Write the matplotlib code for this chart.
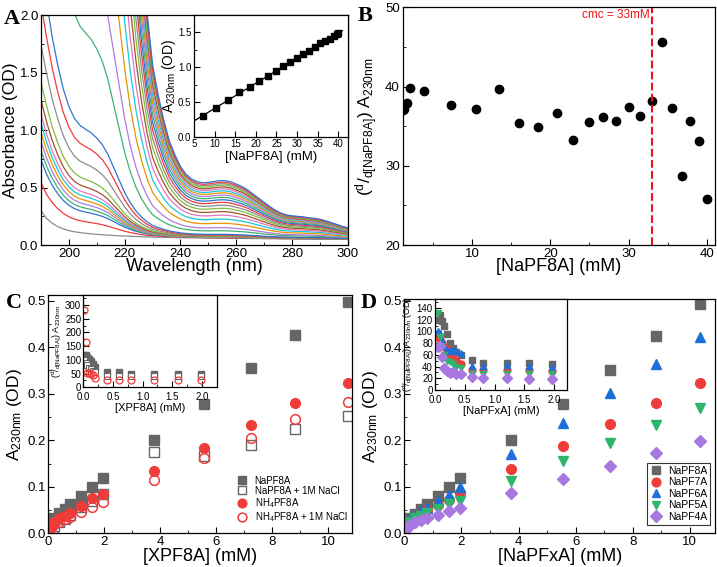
import numpy as np
import matplotlib
matplotlib.use("Agg")
import matplotlib.pyplot as plt
from matplotlib.ticker import MultipleLocator

plt.rcParams['font.family'] = ['Liberation Sans', 'DejaVu Sans']
plt.rcParams['mathtext.default'] = 'regular'
plt.rcParams['axes.linewidth'] = 0.9

# ---------------- data ----------------
# panel A: UV spectra (wavelength grid, molar absorbance shape, solvent baseline, concentrations)
wl = np.arange(190, 301, 2)
eps = [0.80, 0.70, 0.60, 0.52, 0.45, 0.40, 0.365, 0.345, 0.335, 0.325,
       0.31, 0.29, 0.26, 0.22, 0.18, 0.14, 0.108, 0.083, 0.064, 0.049,
       0.0375, 0.031, 0.0255, 0.021, 0.018, 0.0155, 0.0138, 0.0128, 0.0122, 0.012,
       0.0121, 0.0123, 0.0125, 0.0125, 0.0123, 0.0118, 0.0113, 0.0106, 0.0097, 0.0088,
       0.0079, 0.007, 0.0062, 0.0056, 0.0052, 0.005, 0.0049, 0.0048, 0.0046, 0.0045,
       0.0043, 0.004, 0.0036, 0.0032, 0.0028, 0.0025]
base = [0.30, 0.23, 0.19, 0.16, 0.14, 0.125, 0.115, 0.108, 0.102, 0.097,
        0.093, 0.089, 0.086, 0.083, 0.08, 0.078, 0.076, 0.074, 0.072, 0.07,
        0.069, 0.068, 0.067, 0.066, 0.065, 0.064, 0.063, 0.062, 0.062, 0.061,
        0.06, 0.06, 0.059, 0.059, 0.058, 0.058, 0.057, 0.057, 0.056, 0.056,
        0.055, 0.055, 0.055, 0.054, 0.054, 0.054, 0.053, 0.053, 0.053, 0.052,
        0.052, 0.051, 0.051, 0.051, 0.05, 0.05]
conc_A = [0, 0.3, 0.55, 0.65, 0.75, 0.85, 0.95, 1.05, 1.2, 1.4, 1.8, 2.25, 2.7,
          5.2, 7.3, 10.4, 13.3, 16.0, 18.5, 20.8, 22.9, 24.9, 26.7, 28.4, 30.0,
          31.5, 32.9, 34.3, 35.6, 36.8, 37.9, 38.9, 40.0]
spec_colors = ['#8c8c8c', '#ef3b3b', '#2f74d0', '#3cb371', '#b07be0',
               '#e69500', '#1cc6d6', '#e377c2', '#a0522d', '#7fbf3f']

# panel A inset
inA_x = [7.3, 10.4, 13.3, 16.0, 18.5, 20.8, 22.9, 24.9, 26.7, 28.4, 30.0,
         31.5, 32.9, 34.3, 35.6, 36.8, 37.9, 38.9, 39.6, 40.0]
inA_y = [0.30, 0.42, 0.53, 0.64, 0.71, 0.80, 0.87, 0.94, 1.01, 1.07, 1.13,
         1.19, 1.23, 1.29, 1.35, 1.37, 1.41, 1.45, 1.47, 1.49]

# panel B
B_x = [1.2, 1.32, 1.67, 2.09, 3.88, 7.35, 10.55, 13.4, 16.07, 18.5, 20.8, 22.9,
       24.9, 26.7, 28.46, 30.0, 31.5, 32.95, 34.3, 35.55, 36.8, 37.9, 39.0, 40.0]
B_y = [37.0, 37.16, 37.88, 39.85, 39.47, 37.63, 37.2, 39.65, 35.36, 34.9, 36.7, 33.2,
       35.5, 36.1, 35.6, 37.4, 36.3, 38.2, 45.6, 37.3, 28.7, 35.6, 33.1, 25.85]
cmc = 33

# panel C
C_x = [0.05, 0.1, 0.15, 0.2, 0.39, 0.58, 0.78, 1.17, 1.56, 1.95, 3.78, 5.56, 7.25, 8.82, 10.72]
C_na = [0.02, 0.024, 0.028, 0.032, 0.043, 0.053, 0.063, 0.081, 0.1, 0.118, 0.2, 0.277, 0.355, 0.427, 0.497]
C_na_nacl = [0.005, 0.008, 0.012, 0.016, 0.024, 0.03, 0.04, 0.056, 0.07, 0.084, 0.174, 0.167, 0.19, 0.225, 0.251]
C_nh4 = [0.012, 0.018, 0.022, 0.025, 0.032, 0.038, 0.044, 0.059, 0.075, 0.085, 0.133, 0.184, 0.232, 0.28, 0.324]
C_nh4_nacl = [0.01, 0.014, 0.017, 0.02, 0.025, 0.03, 0.034, 0.045, 0.057, 0.067, 0.115, 0.161, 0.205, 0.245, 0.283]

# panel C inset
inC_x = [0.01, 0.04, 0.07, 0.1, 0.13, 0.16, 0.2, 0.4, 0.6, 0.8, 1.2, 1.59, 1.98]
inC_na = [119, 116, 110, 104, 96, 86, 75, 56, 55, 50, 50, 50, 48]
inC_na_nacl = [100, 90, 80, 72, 66, 60, 55, 42, 42, 40, 40, 40, 41]
inC_nh4_nacl = [282, 165, 52, 52, 50, 45, 34, 26, 26, 25, 26, 26, 26]

# panel D
D_x = [0.05, 0.1, 0.15, 0.2, 0.39, 0.58, 0.78, 1.17, 1.56, 1.95, 3.75, 5.55, 7.22, 8.8, 10.35]
D_series = {
    'NaPF8A': [0.02, 0.024, 0.028, 0.032, 0.042, 0.053, 0.063, 0.08, 0.1, 0.118, 0.2, 0.277, 0.352, 0.424, 0.493],
    'NaPF7A': [0.015, 0.02, 0.024, 0.027, 0.035, 0.042, 0.05, 0.061, 0.072, 0.086, 0.138, 0.188, 0.235, 0.281, 0.323],
    'NaPF6A': [0.018, 0.022, 0.027, 0.03, 0.04, 0.048, 0.055, 0.07, 0.082, 0.099, 0.17, 0.238, 0.302, 0.363, 0.421],
    'NaPF5A': [0.013, 0.017, 0.021, 0.024, 0.032, 0.038, 0.044, 0.052, 0.062, 0.069, 0.112, 0.155, 0.195, 0.232, 0.269],
    'NaPF4A': [0.01, 0.013, 0.016, 0.018, 0.024, 0.028, 0.032, 0.039, 0.048, 0.054, 0.086, 0.116, 0.145, 0.172, 0.199],
}
D_styles = {
    'NaPF8A': ('s', '#666666'),
    'NaPF7A': ('o', '#f03b3b'),
    'NaPF6A': ('^', '#1e6fd9'),
    'NaPF5A': ('v', '#2db56b'),
    'NaPF4A': ('D', '#a678e0'),
}

# panel D inset
inD_x = [0.05, 0.09, 0.12, 0.15, 0.2, 0.25, 0.3, 0.36, 0.43, 0.62, 0.8, 1.2, 1.58, 1.97]
inD_series = {
    'NaPF8A': [120, 128, 118, 109, 95, 80, 72, 65, 60, 52, 46, 46, 46, 44],
    'NaPF7A': [90, 85, 80, 74, 70, 62, 55, 50, 45, 35, 35, 34, 34, 33],
    'NaPF6A': [100, 97, 85, 75, 69, 66, 68, 67, 63, 41, 41, 42, 41, 40],
    'NaPF5A': [132, 90, 75, 60, 50, 48, 45, 40, 38, 28, 28, 28, 28, 27],
    'NaPF4A': [73, 75, 56, 38, 33, 29, 30, 28, 27, 22, 21, 20, 19, 18],
}

# ---------------- helpers ----------------
def style_axes(ax, fs=9.5, pad=2):
    ax.tick_params(which='both', direction='in', labelsize=fs, top=False, right=False, pad=pad)
    ax.tick_params(which='major', length=4)
    ax.tick_params(which='minor', length=2)

def panel_letter(x, y, s):
    fig.text(x, y, s, fontsize=16, fontweight='bold', family='Liberation Serif',
             ha='left', va='top')

fig = plt.figure(figsize=(7.17, 5.67), dpi=100)

# ---------------- panel A ----------------
axA = fig.add_axes([0.0572, 0.5679, 0.4278, 0.4056])
eps_a = np.array(eps)
base_a = np.array(base)
for i, c in enumerate(conc_A):
    axA.plot(wl, base_a + c * eps_a, color=spec_colors[i % len(spec_colors)], lw=0.9)
axA.set_xlim(190, 300)
axA.set_ylim(0, 2.0)
axA.xaxis.set_major_locator(MultipleLocator(20))
axA.xaxis.set_minor_locator(MultipleLocator(10))
axA.yaxis.set_major_locator(MultipleLocator(0.5))
axA.yaxis.set_minor_locator(MultipleLocator(0.25))
style_axes(axA)
axA.set_xlabel('Wavelength (nm)', fontsize=13, labelpad=-1)
axA.set_ylabel('Absorbance (OD)', fontsize=12.5, labelpad=1)

axAi = fig.add_axes([0.2706, 0.7589, 0.2144, 0.2146])
axAi.plot(inA_x, inA_y, 's', color='k', ms=3.8)
fit = np.polyfit(inA_x, inA_y, 1)
fx = np.array([5, 41])
axAi.plot(fx, np.polyval(fit, fx), color='k', lw=0.9)
axAi.set_xlim(5, 42.3)
axAi.set_ylim(0, 1.75)
axAi.xaxis.set_major_locator(MultipleLocator(5))
axAi.yaxis.set_major_locator(MultipleLocator(0.5))
axAi.yaxis.set_minor_locator(MultipleLocator(0.25))
style_axes(axAi, fs=7)
axAi.set_xlabel('[NaPF8A] (mM)', fontsize=9.5, labelpad=1)
axAi.set_ylabel('A$_{230nm}$ (OD)', fontsize=10, labelpad=0)

# ---------------- panel B ----------------
axB = fig.add_axes([0.5616, 0.5679, 0.4362, 0.4192])
axB.plot(B_x, B_y, 'o', color='k', ms=6)
axB.axvline(cmc, color='#e8141a', ls='--', lw=1.5)
axB.text(cmc - 0.35, 49.0, 'cmc = 33mM', color='#e8141a', fontsize=8.5,
         ha='right', va='center')
axB.set_xlim(1.15, 41.1)
axB.set_ylim(20, 50)
axB.xaxis.set_major_locator(MultipleLocator(10))
axB.xaxis.set_minor_locator(MultipleLocator(5))
axB.yaxis.set_major_locator(MultipleLocator(10))
axB.yaxis.set_minor_locator(MultipleLocator(5))
style_axes(axB)
axB.set_xlabel('[NaPF8A] (mM)', fontsize=13, labelpad=-1)
axB.set_ylabel('$(^{d}/_{d[NaPF8A]})$ A$_{230nm}$', fontsize=12.5, labelpad=4)

# ---------------- panel C ----------------
axC = fig.add_axes([0.0674, 0.0594, 0.4236, 0.4203])
gray = '#666666'
red = '#f03b3b'
axC.plot(C_x, C_na, 's', color=gray, ms=6.5, label='NaPF8A')
axC.plot(C_x, C_na_nacl, 's', mfc='white', mec=gray, mew=1.0, ms=6.5, label='NaPF8A + 1M NaCl')
axC.plot(C_x, C_nh4, 'o', color=red, ms=7, label='NH$_4$PF8A')
axC.plot(C_x, C_nh4_nacl, 'o', mfc='none', mec=red, mew=1.1, ms=7, label='NH$_4$PF8A + 1M NaCl')
axC.set_xlim(0, 10.85)
axC.set_ylim(0, 0.512)
axC.xaxis.set_major_locator(MultipleLocator(2))
axC.xaxis.set_minor_locator(MultipleLocator(1))
axC.yaxis.set_major_locator(MultipleLocator(0.1))
axC.yaxis.set_minor_locator(MultipleLocator(0.05))
style_axes(axC)
axC.set_xlabel('[XPF8A] (mM)', fontsize=13, labelpad=0)
axC.set_ylabel('A$_{230nm}$ (OD)', fontsize=12.5, labelpad=2)
axC.legend(loc='upper left', bbox_to_anchor=(0.615, 0.25), frameon=False, fontsize=7,
           handletextpad=0.8, labelspacing=0.02, borderaxespad=0, handlelength=1.0,
           borderpad=0.2, markerscale=0.9)

axCi = fig.add_axes([0.1162, 0.3169, 0.1860, 0.1628])
axCi.plot(inC_x, inC_na, 's', color=gray, ms=4.3)
axCi.plot(inC_x, inC_na_nacl, 's', mfc='white', mec=gray, mew=0.8, ms=4.3)
axCi.plot(inC_x, inC_nh4_nacl, 'o', mfc='none', mec=red, mew=0.9, ms=5)
axCi.set_xlim(0, 2.25)
axCi.set_ylim(0, 336)
axCi.xaxis.set_major_locator(MultipleLocator(0.5))
axCi.xaxis.set_minor_locator(MultipleLocator(0.25))
axCi.yaxis.set_major_locator(MultipleLocator(50))
axCi.yaxis.set_minor_locator(MultipleLocator(25))
style_axes(axCi, fs=7, pad=1.5)
axCi.tick_params(axis='x', pad=3.5)
axCi.set_xlabel('[XPF8A] (mM)', fontsize=8, labelpad=0.5)
axCi.set_ylabel('$(^{d}/_{d[NaPF8A]})$ A$_{230nm}$', fontsize=6.5, labelpad=1)

# ---------------- panel D ----------------
axD = fig.add_axes([0.5639, 0.0594, 0.4333, 0.4127])
for name, vals in D_series.items():
    mk, col = D_styles[name]
    ms = 7 if mk != 'D' else 6.3
    axD.plot(D_x, vals, mk, color=col, ms=ms, label=name)
axD.set_xlim(0, 10.88)
axD.set_ylim(0, 0.503)
axD.xaxis.set_major_locator(MultipleLocator(2))
axD.xaxis.set_minor_locator(MultipleLocator(1))
axD.yaxis.set_major_locator(MultipleLocator(0.1))
axD.yaxis.set_minor_locator(MultipleLocator(0.05))
style_axes(axD)
axD.set_xlabel('[NaPFxA] (mM)', fontsize=13, labelpad=0)
axD.set_ylabel('A$_{230nm}$ (OD)', fontsize=12.5, labelpad=2)
legD = axD.legend(loc='lower right', bbox_to_anchor=(0.985, 0.035), frameon=True,
                  fancybox=False, fontsize=7.5, handletextpad=0.6, labelspacing=0.15,
                  borderaxespad=0, handlelength=1.1, borderpad=0.3, markerscale=0.9)
legD.get_frame().set_edgecolor('k')
legD.get_frame().set_linewidth(0.8)

axDi = fig.add_axes([0.6067, 0.3122, 0.1845, 0.1599])
for name, vals in inD_series.items():
    mk, col = D_styles[name]
    axDi.plot(inD_x, vals, mk, color=col, ms=5)
axDi.set_xlim(0, 2.22)
axDi.set_ylim(0, 155)
axDi.xaxis.set_major_locator(MultipleLocator(0.5))
axDi.xaxis.set_minor_locator(MultipleLocator(0.25))
axDi.yaxis.set_major_locator(MultipleLocator(20))
axDi.yaxis.set_minor_locator(MultipleLocator(10))
style_axes(axDi, fs=7, pad=1.5)
axDi.tick_params(axis='x', pad=3.5)
axDi.set_xlabel('[NaPFxA] (mM)', fontsize=8, labelpad=0.5)
axDi.set_ylabel('$(^{d}/_{d[NaPF8A]})$ A$_{230nm}$ (OD)', fontsize=6.5, labelpad=1)

# panel letters
panel_letter(0.005, 0.985, 'A')
panel_letter(0.499, 0.990, 'B')
panel_letter(0.008, 0.484, 'C')
panel_letter(0.503, 0.484, 'D')

fig.savefig('out.png', dpi=100)
